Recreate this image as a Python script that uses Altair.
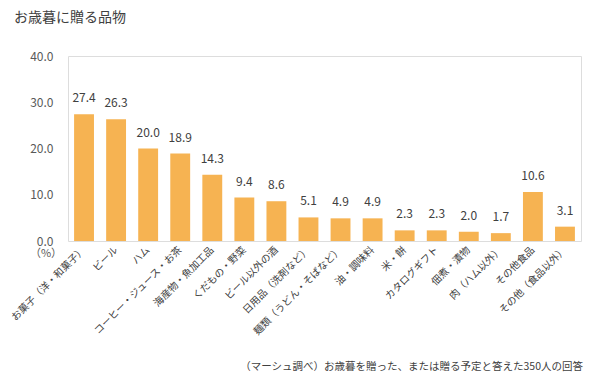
import altair as alt
import pandas as pd

categories = [
    "お菓子（洋・和菓子）", "ビール", "ハム", "コーヒー・ジュース・お茶",
    "海産物・魚加工品", "くだもの・野菜", "ビール以外の酒", "日用品（洗剤など）",
    "麺類（うどん・そばなど）", "油・調味料", "米・餅", "カタログギフト",
    "佃煮・漬物", "肉（ハム以外）", "その他食品", "その他（食品以外）",
]
values = [27.4, 26.3, 20.0, 18.9, 14.3, 9.4, 8.6, 5.1, 4.9, 4.9, 2.3, 2.3, 2.0, 1.7, 10.6, 3.1]
y_ticks = [0, 10, 20, 30, 40]

title_text = "お歳暮に贈る品物"
unit_text = "（%）"
note_text = "（マーシュ調べ）お歳暮を贈った、または贈る予定と答えた350人の回答"

FONT = "Noto Sans CJK JP"
W, H = 513, 185

df = pd.DataFrame({"cat": categories, "val": values})

x = alt.X("cat:N", sort=None, title=None,
          scale=alt.Scale(paddingInner=0.38, paddingOuter=0.19),
          axis=alt.Axis(labelAngle=-45, labelAlign="right", labelBaseline="middle",
                        labelFont=FONT, labelFontSize=10, labelColor="#404040",
                        labelPadding=7, ticks=False, domain=False, labelLimit=200))
y = alt.Y("val:Q", title=None,
          scale=alt.Scale(domain=[0, 40], nice=False),
          axis=alt.Axis(values=y_ticks, format=".1f", grid=False, ticks=False, domain=False,
                        labelFont=FONT, labelFontSize=12, labelColor="#595959", labelPadding=15))

bars = alt.Chart(df).mark_bar(color="#F6B352").encode(x=x, y=y)
labels = alt.Chart(df).mark_text(dy=-9, baseline="bottom", font=FONT, fontSize=12,
                                 color="#404040").encode(
    x=alt.X("cat:N", sort=None), y="val:Q", text=alt.Text("val:Q", format=".1f"))

title = alt.Chart(pd.DataFrame({"t": [title_text]})).mark_text(
    align="left", baseline="middle", font=FONT, fontSize=14, color="#404040"
).encode(x=alt.value(-54), y=alt.value(-38), text="t:N")

unit = alt.Chart(pd.DataFrame({"t": [unit_text]})).mark_text(
    align="center", baseline="middle", font=FONT, fontSize=11, color="#595959"
).encode(x=alt.value(-22), y=alt.value(H + 13), text="t:N")

note = alt.Chart(pd.DataFrame({"t": [note_text]})).mark_text(
    align="right", baseline="middle", font=FONT, fontSize=10.5, color="#404040"
).encode(x=alt.value(W + 2), y=alt.value(H + 126), text="t:N")

chart = alt.layer(bars, labels, title, unit, note).properties(
    width=W, height=H,
    autosize=alt.AutoSizeParams(type="none"),
    padding={"left": 60, "top": 48, "right": 10, "bottom": 140},
).configure_view(stroke="#D9D9D9", strokeWidth=1).configure(background="white")

chart.save("out.html", embed_options={"renderer": "svg", "actions": False})
